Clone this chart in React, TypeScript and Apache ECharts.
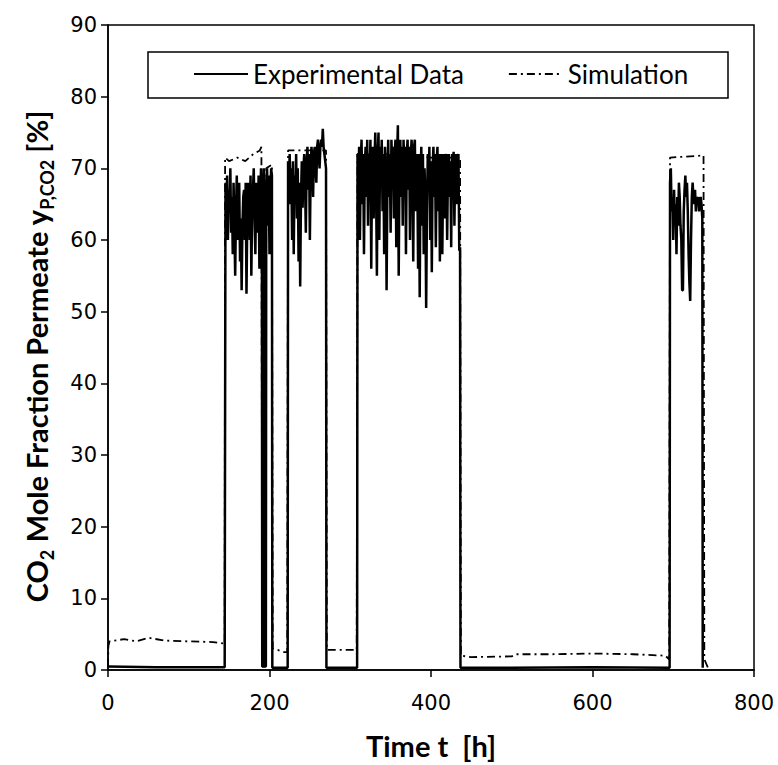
import React, { useEffect, useRef } from "react";
import * as echarts from "echarts";

// x ticks / y ticks
const xTicks = [0, 200, 400, 600, 800];
const yTicks = [0, 10, 20, 30, 40, 50, 60, 70, 80, 90];

// Experimental data [time h, CO2 %]
const expBaseline1: number[][] = [[0, 0.5], [60, 0.4], [144.5, 0.4]];
const expBlock1: number[][] = [
  [145.5, 68], [146.5, 62], [147.5, 69], [148.5, 60], [149.5, 67], [150.5, 64], [151.5, 70], [152.5, 61],
  [153.5, 66], [154.5, 58], [155.5, 68], [156.5, 62], [157.5, 55], [158.5, 64], [159.5, 69], [160.5, 60],
  [161.5, 66], [162.5, 68], [163.5, 57], [164.5, 63], [165.5, 53], [166.5, 62], [167.5, 66], [168.5, 67],
  [169.5, 60], [170.5, 68], [171.5, 52.5], [172.5, 63], [173.5, 68], [174.5, 66], [175.5, 60], [176.5, 69],
  [177.5, 55], [178.5, 64], [179.5, 67], [180.5, 70], [181.5, 63], [182.5, 58], [183.5, 68], [184.5, 66],
  [185.5, 61], [186.5, 69], [187.5, 56], [188.5, 65], [189.5, 70], [190.5, 68], [191, 0.5], [192.5, 0.5],
  [193, 70], [193.5, 0.5], [195.5, 0.5], [196, 68], [197, 70], [198, 62], [199, 69], [200, 58], [201, 66],
  [202, 70], [203, 69], [203.5, 0.3],
];
const expBaseline2: number[][] = [[210, 0.3], [222.5, 0.3]];
const expBlock2: number[][] = [
  [223, 71], [224, 68], [225, 72], [226, 65], [227, 70], [228, 60], [229, 71], [230, 58], [231, 69], [232, 66],
  [233, 72], [234, 63], [235, 70], [236, 57], [237, 68], [238, 53.5], [239, 66], [240, 71], [241, 64.5], [242, 70],
  [243, 72], [244, 68], [245, 61], [246, 71], [247, 73], [248, 67], [249, 72], [250, 60], [251, 70], [252, 73],
  [253, 71], [254, 66], [255, 72], [256, 73], [257, 70], [258, 68], [259, 73], [260, 74], [261, 72], [262, 70],
  [263, 73], [264, 74], [265, 73], [266, 75.5], [267, 73], [268, 72], [269, 71], [270, 70], [270.5, 0.3],
];
const expBaseline3: number[][] = [[290, 0.3], [308.5, 0.3]];
const expBlock3: number[][] = [
  [309, 72], [310, 68], [311, 73], [312, 60], [313, 71], [314, 74], [315, 65], [316, 72], [317, 58], [318, 70],
  [319, 73], [320, 66], [321, 74], [322, 62], [323, 72], [324, 69], [325, 74], [326, 56], [327, 70], [328, 73],
  [329, 63], [330, 71], [331, 75], [332, 67], [333, 55], [334, 72], [335, 75], [336, 60], [337, 73], [338, 69],
  [339, 74], [340, 64], [341, 72], [342, 58], [343, 73], [344, 70], [345, 53], [346, 68], [347, 74], [348, 66],
  [349, 72], [350, 61], [351, 74], [352, 70], [353, 73], [354, 63], [355, 72], [356, 74], [357, 59], [358, 72],
  [359, 76], [360, 55], [361, 70], [362, 74], [363, 66], [364, 73], [365, 62], [366, 74], [367, 70], [368, 73],
  [369, 58], [370, 72], [371, 74], [372, 67], [373, 73], [374, 60], [375, 72], [376, 74], [377, 69], [378, 57],
  [379, 73], [380, 74], [381, 64], [382, 72], [383, 70], [384, 56], [385, 72], [386, 52], [387, 69], [388, 73],
  [389, 62], [390, 72], [391, 58], [392, 70], [393, 66], [394, 50.5], [395, 64], [396, 72], [397, 68], [398, 73],
  [399, 60], [400, 71], [401, 55.5], [402, 70], [403, 73], [404, 66], [405, 72], [406, 59], [407, 71], [408, 73],
  [409, 64], [410, 72], [411, 57], [412, 70], [413, 72], [414, 58], [415, 69], [416, 72], [417, 63], [418, 71],
  [419, 72], [420, 60], [421, 70], [422, 72], [423, 66], [424, 71], [425, 59], [426, 72], [427, 70], [428, 72.3],
  [429, 62], [430, 71], [431, 72], [432, 65], [433, 71], [434, 72], [435, 58.5], [436, 59], [436.5, 0.3],
];
const expBaseline4: number[][] = [[500, 0.3], [600, 0.4], [695.5, 0.3]];
const expBlock4: number[][] = [
  [696, 68], [697, 70], [698, 64], [699, 66], [700, 60], [701, 67], [702, 63], [703, 65], [704, 58], [705, 66],
  [706, 62], [707, 68], [708, 66], [709, 62], [710, 60], [711, 53], [712, 53], [713, 64], [714, 67], [715, 69],
  [716, 66], [717, 68], [718, 64], [719, 58], [720, 54], [721, 51.5], [722, 60], [723, 66], [724, 68], [725, 66],
  [726, 65], [727, 67], [728, 64], [729, 66], [730, 65], [731, 66], [732, 64], [733, 65], [734, 66], [735, 65],
  [736, 63], [736.5, 0.3],
];

// Simulation data [time h, CO2 %]
const simData: number[][] = [
  [0, 0.5], [0.5, 3.4], [2, 4.0], [20, 4.3], [35, 4.0], [50, 4.5], [70, 4.1], [100, 4.0], [130, 3.9], [143, 3.7],
  [144.5, 3.6], [145, 71.5], [150, 71], [160, 71.5], [170, 71], [180, 72], [188, 72.5], [190, 73],
  [191, 0.5], [195, 0.5], [196, 70], [203, 70.5], [204, 3], [210, 2.8], [218, 2.5], [222, 2.5],
  [223, 72.5], [240, 72.5], [260, 72.5], [270, 72.5], [271, 2.8], [290, 2.8], [308, 2.8], [309, 72],
  [350, 72], [400, 71.5], [436, 71.5], [437, 2.0], [450, 1.8], [500, 1.9], [505, 2.2], [550, 2.2],
  [600, 2.3], [650, 2.2], [690, 2.0], [695, 1.5], [696, 71.5], [737.5, 71.8], [738.5, 1.5], [743, 0.3],
];

const expData = [
  ...expBaseline1, ...expBlock1, ...expBaseline2, ...expBlock2, ...expBaseline3, ...expBlock3,
  ...expBaseline4, ...expBlock4,
];

export default function App() {
  const ref = useRef<HTMLDivElement>(null);
  useEffect(() => {
    document.body.style.margin = "0";
    const chart = echarts.init(ref.current!, null, { renderer: "svg" });
    const axisColor = "#000";
    chart.setOption({
      animation: false,
      backgroundColor: "#fff",
      grid: {
        left: 108, right: 24, top: 25, bottom: 94,
        show: true, borderColor: "#000", borderWidth: 1.5, backgroundColor: "transparent",
      },
      graphic: [
        {
          type: "rect",
          shape: { x: 148, y: 52, width: 580, height: 46 },
          style: { fill: "#fff", stroke: "#000", lineWidth: 1.5 },
          z: 5,
        },
      ],
      legend: {
        left: 193, top: 61, padding: 0, itemWidth: 54, itemHeight: 14, itemGap: 44, z: 10,
        itemStyle: { opacity: 0, borderWidth: 0 },
        textStyle: { fontFamily: "Lato", fontSize: 26, color: "#000" },
        data: ["Experimental Data", "Simulation"],
      },
      xAxis: {
        type: "value", min: xTicks[0], max: xTicks[xTicks.length - 1], interval: 200,
        axisLine: { show: true, onZero: false, lineStyle: { color: axisColor, width: 1.5 } },
        axisTick: { show: true, length: 7, lineStyle: { color: axisColor, width: 1.5 } },
        splitLine: { show: false },
        axisLabel: { fontFamily: "DejaVu Sans", fontSize: 21, color: "#000", margin: 22 },
        name: "Time t  [h]", nameLocation: "middle", nameGap: 61,
        nameTextStyle: { fontFamily: "Lato", fontWeight: "bold", fontSize: 29, color: "#000" },
      },
      yAxis: {
        type: "value", min: yTicks[0], max: yTicks[yTicks.length - 1], interval: 10,
        axisLine: { show: true, onZero: false, lineStyle: { color: axisColor, width: 1.5 } },
        axisTick: { show: true, length: 7, lineStyle: { color: axisColor, width: 1.5 } },
        splitLine: { show: false },
        axisLabel: { fontFamily: "DejaVu Sans", fontSize: 21, color: "#000", margin: 11 },
        name: "{b|CO}{s|2}{b| Mole Fraction Permeate y}{s|P,CO2}{e| [%]}",
        nameLocation: "middle", nameGap: 57,
        nameTextStyle: {
          color: "#000",
          rich: {
            b: { fontFamily: "Lato", fontWeight: "bold", fontSize: 29, color: "#000" },
            e: { fontFamily: "Lato", fontWeight: "bold", fontSize: 29, color: "#000", padding: [0, 18, 0, 0] },
            s: { fontFamily: "Lato", fontWeight: "bold", fontSize: 18, color: "#000", verticalAlign: "bottom", padding: [0, 0, -5, 0] },
          },
        },
      },
      series: [
        {
          name: "Experimental Data", type: "line", data: expData, symbol: "none", showSymbol: false,
          lineStyle: { color: "#000", width: 2.5, type: "solid", join: "bevel" },
          itemStyle: { color: "#000" }, z: 3,
        },
        {
          name: "Simulation", type: "line", data: simData, symbol: "none", showSymbol: false,
          lineStyle: { color: "#000", width: 1.8, type: [8, 4, 2, 4] },
          itemStyle: { color: "#000" }, z: 4,
        },
      ],
    });
    return () => chart.dispose();
  }, []);
  return (
    <div
      ref={ref}
      style={{ position: "absolute", left: 0, top: 0, width: 778, height: 765 }}
    />
  );
}
